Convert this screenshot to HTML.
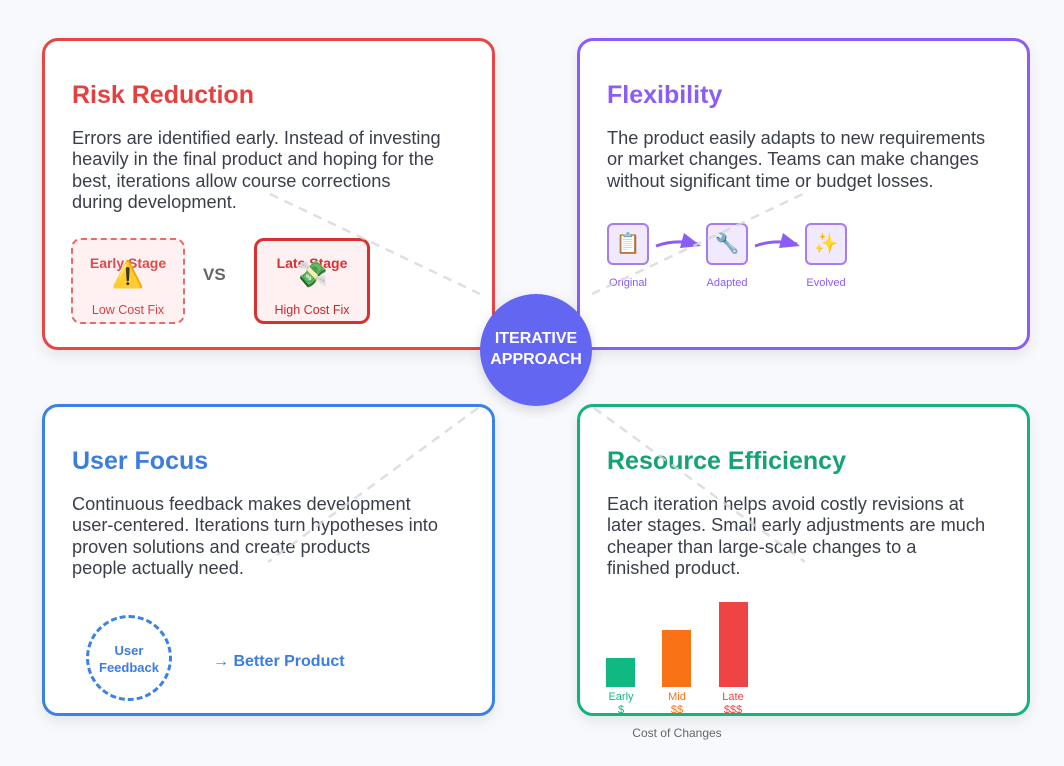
<!DOCTYPE html>
<html><head><style>
body{margin:0;width:1064px;height:766px;background:#f8f9fc;font-family:"Liberation Sans",sans-serif;position:relative;overflow:hidden}
.card{position:absolute;width:453px;height:312px;background:#fff;border:3px solid;border-radius:16px;box-sizing:border-box;box-shadow:0 6px 14px rgba(0,0,0,.08)}
.card h2{position:absolute;left:27px;top:40px;margin:0;font-size:25px;font-weight:bold}
.card p{position:absolute;left:27px;top:87px;margin:0;font-size:18.2px;line-height:21.3px;color:#3a3f4a;white-space:nowrap}
.abs{position:absolute}
.box{position:absolute;border-radius:10px;background:#fff0f2;text-align:center}
.ic{position:absolute;width:42px;height:42px;border:2px solid #a47cf3;background:#f1e9fe;border-radius:6px;box-sizing:border-box;font-size:20px;text-align:center;line-height:38px}
.lb{position:absolute;font-size:11px;color:#8b5cf6;text-align:center;width:80px}
</style></head><body>
<div class="card" style="left:42px;top:38px;border-color:#e84545">
<h2 style="color:#e63f3f">Risk Reduction</h2>
<p>Errors are identified early. Instead of investing<br>heavily in the final product and hoping for the<br>best, iterations allow course corrections<br>during development.</p>
<div class="box" style="left:26px;top:197px;width:114px;height:86px;border:2px dashed #e86a6a;box-sizing:border-box">
<div class="abs" style="left:0;right:0;top:15px;font-size:14px;font-weight:bold;color:#e04a4a">Early Stage</div>
<div class="abs" style="left:0;right:0;top:19px;font-size:26px">⚠️</div>
<div class="abs" style="left:0;right:0;top:63px;font-size:12.5px;color:#d94040">Low Cost Fix</div></div>
<div class="abs" style="left:158px;top:224px;font-size:17px;font-weight:bold;color:#666">VS</div>
<div class="box" style="left:209px;top:197px;width:116px;height:86px;border:3px solid #d93030;box-sizing:border-box">
<div class="abs" style="left:0;right:0;top:14px;font-size:14px;font-weight:bold;color:#d93030">Late Stage</div>
<div class="abs" style="left:0;right:0;top:18px;font-size:26px">💸</div>
<div class="abs" style="left:0;right:0;top:62px;font-size:12.5px;color:#c82828">High Cost Fix</div></div>
</div>
<div class="card" style="left:577px;top:38px;border-color:#8b5cf6">
<h2 style="color:#8b5cf6">Flexibility</h2>
<p>The product easily adapts to new requirements<br>or market changes. Teams can make changes<br>without significant time or budget losses.</p>
<div class="ic" style="left:27px;top:182px">📋</div>
<div class="ic" style="left:126px;top:182px">🔧</div>
<div class="ic" style="left:225px;top:182px">✨</div>
<div class="lb" style="left:8px;top:236px">Original</div>
<div class="lb" style="left:107px;top:236px">Adapted</div>
<div class="lb" style="left:206px;top:236px">Evolved</div>
<svg class="abs" style="left:0;top:0" width="446" height="306">
<path d="M76 205 Q95 198 118 203" stroke="#8b5cf6" stroke-width="3" fill="none"/><polygon points="104,192 121,205 100,207" fill="#8b5cf6"/>
<path d="M175 205 Q194 198 217 203" stroke="#8b5cf6" stroke-width="3" fill="none"/><polygon points="203,192 220,205 199,207" fill="#8b5cf6"/>
</svg>
</div>
<div class="card" style="left:42px;top:404px;border-color:#3b82e6">
<h2 style="color:#3b7ee0">User Focus</h2>
<p>Continuous feedback makes development<br>user-centered. Iterations turn hypotheses into<br>proven solutions and create products<br>people actually need.</p>
<div class="abs" style="left:41px;top:208px;width:86px;height:86px;border:3px dashed #3b82e6;border-radius:50%;box-sizing:border-box;text-align:center;font-size:13px;font-weight:bold;color:#3b7ee0;padding-top:24px;line-height:17px">User<br>Feedback</div>
<div class="abs" style="left:168px;top:246px;font-size:16px;font-weight:bold;color:#3b7ee0">→ Better Product</div>
</div>
<div class="card" style="left:577px;top:404px;border-color:#14b37d">
<h2 style="color:#14a371">Resource Efficiency</h2>
<p>Each iteration helps avoid costly revisions at<br>later stages. Small early adjustments are much<br>cheaper than large-scale changes to a<br>finished product.</p>
</div>
<div class="abs" style="left:606px;top:658px;width:29px;height:29px;background:#10b981"></div>
<div class="abs" style="left:662px;top:630px;width:29px;height:57px;background:#f97316"></div>
<div class="abs" style="left:719px;top:602px;width:29px;height:85px;background:#ef4444"></div>
<div class="abs" style="left:600px;top:691px;width:42px;text-align:center;font-size:11px;line-height:13px;color:#10b981">Early<br>$</div>
<div class="abs" style="left:656px;top:691px;width:42px;text-align:center;font-size:11px;line-height:13px;color:#f97316">Mid<br>$$</div>
<div class="abs" style="left:712px;top:691px;width:42px;text-align:center;font-size:11px;line-height:13px;color:#ef4444">Late<br>$$$</div>
<div class="abs" style="left:600px;top:726px;width:154px;text-align:center;font-size:12px;color:#666">Cost of Changes</div>
<svg class="abs" style="left:0;top:0" width="1064" height="766">
<g stroke="#d8d8dc" stroke-width="2.5" stroke-dasharray="9 7" opacity=".8">
<line x1="270" y1="194" x2="480" y2="294"/>
<line x1="592" y1="294" x2="805" y2="193"/>
<line x1="478" y1="408" x2="268" y2="562"/>
<line x1="594" y1="408" x2="805" y2="562"/>
</g></svg>
<div class="abs" style="left:480px;top:294px;width:112px;height:112px;border-radius:50%;background:#6366f1;box-shadow:0 4px 12px rgba(0,0,0,.15);color:#fff;font-weight:bold;font-size:16px;line-height:21px;text-align:center;padding-top:34px;box-sizing:border-box">ITERATIVE<br>APPROACH</div>
</body></html>
